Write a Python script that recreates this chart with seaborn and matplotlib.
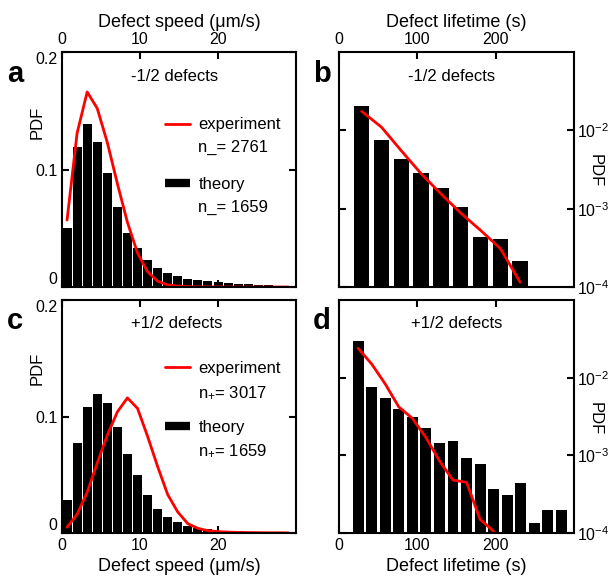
import numpy as np
import pandas as pd
import matplotlib
matplotlib.use("Agg")
import matplotlib.pyplot as plt
import seaborn as sns
from matplotlib.lines import Line2D

# ---------------- data ----------------
speed_centers = [0.645, 1.935, 3.225, 4.515, 5.805, 7.095, 8.385, 9.675, 10.965,
                 12.255, 13.545, 14.835, 16.125, 17.415, 18.705, 19.995, 21.285,
                 22.575, 23.865, 25.155, 26.445, 27.735, 29.025]
speed_neg_theory = [0.050, 0.119, 0.139, 0.123, 0.097, 0.068, 0.046, 0.033, 0.023,
                    0.016, 0.012, 0.0090, 0.0070, 0.0057, 0.0048, 0.0040, 0.0033,
                    0.0028, 0.0023, 0.0018, 0.0014, 0.0010, 0.0007]
speed_neg_exp = [0.057, 0.131, 0.166, 0.152, 0.123, 0.088, 0.055, 0.029, 0.013,
                 0.005, 0.0018, 0.0008, 0.0004, 0.0002, 0.0001, 0.0001, 0.0,
                 0.0, 0.0, 0.0, 0.0, 0.0, 0.0]
speed_pos_theory = [0.028, 0.0775, 0.1086, 0.119, 0.1115, 0.091, 0.068, 0.050, 0.033,
                    0.021, 0.0139, 0.0095, 0.0064, 0.0042, 0.0031, 0.0021, 0.0016,
                    0.0013, 0.0010, 0.0008, 0.0006, 0.0005, 0.0004]
speed_pos_exp = [0.005, 0.016, 0.035, 0.060, 0.084, 0.104, 0.116, 0.107, 0.083,
                 0.057, 0.033, 0.018, 0.008, 0.004, 0.002, 0.0012, 0.0008,
                 0.0005, 0.0004, 0.0003, 0.0002, 0.0002, 0.0001]

life_neg_centers = [28.85, 54.15, 79.45, 104.75, 130.05, 155.35, 180.65, 205.95, 231.25]
life_neg_theory = [0.0203, 0.0076, 0.00434, 0.00284, 0.00182, 0.00104, 0.000429,
                   0.000408, 0.000213]
life_neg_exp = [0.0175, 0.011, 0.0055, 0.0028, 0.00155, 0.00088, 0.00053, 0.00031,
                0.000115]

life_pos_centers = [24.4, 41.7, 59.0, 76.3, 93.6, 110.9, 128.2, 145.5, 162.8, 180.1,
                    197.4, 214.7, 232.0, 249.3, 266.6, 283.9]
life_pos_theory = [0.0295, 0.00765, 0.0054, 0.00394, 0.00316, 0.00223, 0.00146,
                   0.00153, 0.000933, 0.000765, 0.000374, 0.000307, 0.000443,
                   0.000135, 0.0002, 0.0002]
life_pos_exp_centers = [24.4, 41.7, 59.0, 76.3, 93.6, 110.9, 128.2, 145.5, 162.8,
                        180.1, 197.4]
life_pos_exp = [0.0239, 0.015, 0.0083, 0.0042, 0.0030, 0.0017, 0.00085, 0.00048,
                0.00045, 0.00015, 0.000105]

speed_ticks = [0, 10, 20]
life_ticks = [0, 100, 200]
pdf_lin_ticks = [0, 0.1, 0.2]
pdf_lin_labels = ["0", "0.1", "0.2"]
pdf_log_ticks = [1e-4, 1e-3, 1e-2]

# ---------------- style ----------------
sns.set_style("ticks")
plt.rcParams["font.family"] = ["Liberation Sans", "DejaVu Sans"]
plt.rcParams["mathtext.fontset"] = "custom"
plt.rcParams["mathtext.rm"] = "Liberation Sans"
plt.rcParams["mathtext.it"] = "Liberation Sans:italic"
plt.rcParams["mathtext.bf"] = "Liberation Sans:bold"
plt.rcParams["axes.linewidth"] = 1.5
for key in ["text.color", "axes.labelcolor", "xtick.color", "ytick.color",
            "axes.edgecolor"]:
    plt.rcParams[key] = "black"

fig = plt.figure(figsize=(6.08, 5.81), dpi=100)
ax_a = fig.add_axes([0.102, 0.506, 0.385, 0.4045])
ax_b = fig.add_axes([0.5576, 0.506, 0.3865, 0.4045])
ax_c = fig.add_axes([0.102, 0.0826, 0.385, 0.401])
ax_d = fig.add_axes([0.5576, 0.0826, 0.3865, 0.401])

TICK_FS = 11.5
LAB_FS = 13


def edges_from(centers, width):
    c = np.asarray(centers, dtype=float)
    return list(np.append(c - width / 2, c[-1] + width / 2))


def bars(ax, centers, heights, width, shrink):
    df = pd.DataFrame({"x": centers, "w": heights})
    sns.histplot(data=df, x="x", weights="w", bins=edges_from(centers, width),
                 stat="count", color="black", alpha=1, linewidth=0,
                 shrink=shrink, ax=ax)


def red_line(ax, xs, ys):
    df = pd.DataFrame({"x": xs, "y": ys})
    sns.lineplot(data=df, x="x", y="y", color="red", lw=2, ax=ax)


def style_axes(ax):
    ax.tick_params(direction="in", length=5, width=1.5, labelsize=TICK_FS,
                   top=True, bottom=True, left=True, right=True, which="major",
                   colors="black")
    ax.tick_params(which="minor", length=0)
    for s in ax.spines.values():
        s.set_visible(True)
        s.set_linewidth(1.5)
        s.set_color("black")


def lin_yticks(ax):
    ax.set_yticks(pdf_lin_ticks)
    labs = ax.set_yticklabels(pdf_lin_labels)
    labs[0].set_va("bottom")
    labs[-1].set_va("top")


def add_legend(ax, exp_n, th_n, y1, y2):
    h1 = [Line2D([], [], color="red", lw=2), Line2D([], [], color="none")]
    leg1 = ax.legend(h1, ["experiment", exp_n], loc="upper left",
                     bbox_to_anchor=(0.44, y1), frameon=False, fontsize=12,
                     handlelength=1.5, handletextpad=0.5, borderpad=0,
                     borderaxespad=0, labelspacing=0.45)
    ax.add_artist(leg1)
    h2 = [Line2D([], [], color="black", lw=6, solid_capstyle="butt"),
          Line2D([], [], color="none")]
    ax.legend(h2, ["theory", th_n], loc="upper left",
              bbox_to_anchor=(0.44, y2), frameon=False, fontsize=12,
              handlelength=1.5, handletextpad=0.5, borderpad=0,
              borderaxespad=0, labelspacing=0.45)


# ----- panel a -----
bars(ax_a, speed_centers, speed_neg_theory, 1.29, 0.9)
red_line(ax_a, speed_centers, speed_neg_exp)
ax_a.set_xlim(0, 30)
ax_a.set_ylim(0, 0.2)
ax_a.set_xticks(speed_ticks)
style_axes(ax_a)
lin_yticks(ax_a)
ax_a.tick_params(labeltop=True, labelbottom=False)
ax_a.xaxis.set_label_position("top")
ax_a.set_xlabel("Defect speed (μm/s)", fontsize=LAB_FS)
ax_a.set_ylabel("PDF", fontsize=12)
ax_a.yaxis.set_label_coords(-0.075, 0.70)
ax_a.text(0.48, 0.895, "-1/2 defects", transform=ax_a.transAxes, ha="center",
          va="center", fontsize=12)
add_legend(ax_a, "n_= 2761", "n_= 1659", 0.722, 0.467)

# ----- panel b -----
bars(ax_b, life_neg_centers, life_neg_theory, 25.3, 0.78)
red_line(ax_b, life_neg_centers, life_neg_exp)
ax_b.set_yscale("log")
ax_b.set_xlim(0, 300)
ax_b.set_ylim(1e-4, 1e-1)
ax_b.set_xticks(life_ticks)
ax_b.set_yticks(pdf_log_ticks)
style_axes(ax_b)
ax_b.tick_params(labeltop=True, labelbottom=False, labelleft=False, labelright=True)
ax_b.tick_params(axis="y", pad=2)
ax_b.xaxis.set_label_position("top")
ax_b.yaxis.set_label_position("right")
ax_b.set_xlabel("Defect lifetime (s)", fontsize=LAB_FS)
ax_b.set_ylabel("PDF", fontsize=12, rotation=-90)
ax_b.yaxis.set_label_coords(1.12, 0.495)
ax_b.text(0.48, 0.895, "-1/2 defects", transform=ax_b.transAxes, ha="center",
          va="center", fontsize=12)

# ----- panel c -----
bars(ax_c, speed_centers, speed_pos_theory, 1.29, 0.9)
red_line(ax_c, speed_centers, speed_pos_exp)
ax_c.set_xlim(0, 30)
ax_c.set_ylim(0, 0.2)
ax_c.set_xticks(speed_ticks)
style_axes(ax_c)
lin_yticks(ax_c)
ax_c.set_xlabel("Defect speed (μm/s)", fontsize=LAB_FS)
ax_c.set_ylabel("PDF", fontsize=12)
ax_c.yaxis.set_label_coords(-0.075, 0.708)
ax_c.text(0.49, 0.9, "+1/2 defects", transform=ax_c.transAxes, ha="center",
          va="center", fontsize=12)
add_legend(ax_c, r"n$_{+}$= 3017", r"n$_{+}$= 1659", 0.737, 0.484)

# ----- panel d -----
bars(ax_d, life_pos_centers, life_pos_theory, 17.3, 0.81)
red_line(ax_d, life_pos_exp_centers, life_pos_exp)
ax_d.set_yscale("log")
ax_d.set_xlim(0, 300)
ax_d.set_ylim(1e-4, 1e-1)
ax_d.set_xticks(life_ticks)
ax_d.set_yticks(pdf_log_ticks)
style_axes(ax_d)
ax_d.tick_params(labelleft=False, labelright=True)
ax_d.tick_params(axis="y", pad=2)
ax_d.yaxis.set_label_position("right")
ax_d.set_xlabel("Defect lifetime (s)", fontsize=LAB_FS)
ax_d.set_ylabel("PDF", fontsize=12, rotation=-90)
ax_d.yaxis.set_label_coords(1.12, 0.49)
ax_d.text(0.50, 0.9, "+1/2 defects", transform=ax_d.transAxes, ha="center",
          va="center", fontsize=12)

for ax in (ax_b, ax_d):
    ax.yaxis.set_minor_locator(matplotlib.ticker.NullLocator())

# panel letters
for x, y, t in [(0.0115, 0.859, "a"), (0.515, 0.859, "b"),
                (0.0115, 0.434, "c"), (0.515, 0.434, "d")]:
    fig.text(x, y, t, fontsize=21, fontweight="bold", ha="left", va="baseline")

fig.savefig("out.png", dpi=100)
